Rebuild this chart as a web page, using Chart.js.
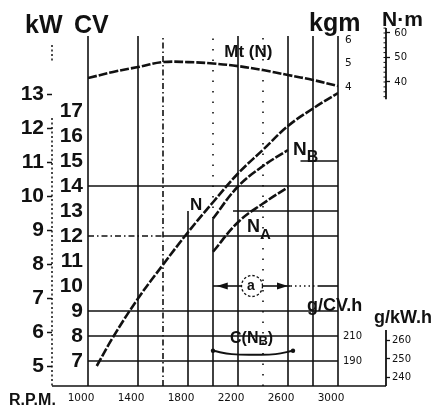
<!DOCTYPE html>
<html>
<head>
<meta charset="utf-8">
<script src="https://cdn.jsdelivr.net/npm/chart.js@4.4.1/dist/chart.umd.min.js"></script>
<style>
  html, body { margin: 0; padding: 0; background: #fff; }
  #wrap { width: 445px; height: 408px; position: relative; }
</style>
</head>
<body>
<div id="wrap"><canvas id="chart"></canvas></div>
<script>
// Engine curve sheet: power N / NB / NA, torque Mt(N), consumption C(NB)

const rpmTicks = [1000, 1400, 1800, 2200, 2600, 3000];
const cvTicks = [7, 8, 9, 10, 11, 12, 13, 14, 15, 16, 17];
const kwTicks = [5, 6, 7, 8, 9, 10, 11, 12, 13];
const kgmTicks = [4, 5, 6];
const nmTicks = [40, 50, 60];
const gcvTicks = [190, 210];
const gkwTicks = [240, 250, 260];

const rpmN = [1070, 1200, 1400, 1600, 1800, 2000, 2200, 2400, 2600, 2800, 3000];
const powerN = [6.8, 7.95, 9.5, 10.85, 12.15, 13.35, 14.5, 15.45, 16.4, 17.1, 17.72];

const rpmPart = [2000, 2200, 2400, 2600];
const powerNB = [12.7, 13.98, 14.8, 15.44];
const powerNA = [11.37, 12.55, 13.3, 13.95];

const rpmMt = [1000, 1200, 1400, 1600, 1800, 2000, 2200, 2400, 2600, 2800, 3000];
const torqueMt = [4.38, 4.64, 4.85, 5.06, 5.06, 5.0, 4.89, 4.72, 4.51, 4.3, 4.04];

const rpmC = [2000, 2150, 2350, 2500, 2640];
const consC = [198.2, 195.5, 195, 195.5, 198.2];

const KW_PER_CV = 0.7355;
const INK = '#111';
const SOLID = [], DASHDOT = [6, 3, 1.5, 3], DOTS = [1.5, 9];

// paper grid: [rpm, cvFrom, cvTo, dash] and [cv, rpmFrom, rpmTo, dash]
const vLines = [
  [1000, 6, 20, SOLID], [1400, 6, 20, SOLID], [1600, 6, 20, DASHDOT],
  [1800, 6, 13, SOLID], [2000, 6, 12.7, SOLID], [2000, 12.7, 20, DOTS],
  [2200, 6, 20, SOLID], [2400, 6, 20, DOTS], [2600, 6, 20, SOLID],
  [2800, 6, 20, SOLID], [3000, 6, 20, SOLID]
];
const hLines = [
  [7, 1000, 3000, SOLID], [8, 1000, 3000, SOLID], [9, 1000, 3000, SOLID],
  [12, 1000, 1600, DASHDOT], [12, 1600, 3000, SOLID],
  [13, 2160, 3000, SOLID], [14, 1000, 3000, SOLID], [15, 2700, 3000, SOLID],
  [10, 2000, 2228, SOLID], [10, 2396, 2620, SOLID], [10, 2620, 2840, [1.5, 3]], [10, 2840, 3000, SOLID]
];

function fixedTicks(list) {
  return scale => { scale.ticks = list.map(v => ({ value: v })); };
}
// fixed column width; drop the label overhang padding so the plot keeps its height
function fixWidth(w) {
  return scale => {
    scale.width = w;
    scale.paddingTop = 0;
    scale.paddingBottom = 0;
  };
}

function curve(label, xs, ys, axis, extra) {
  return Object.assign({
    label,
    data: xs.map((x, i) => ({ x, y: ys[i] })),
    yAxisID: axis,
    borderColor: INK,
    borderWidth: 2.6,
    borderDash: [9, 2],
    pointRadius: 0,
    tension: 0.4,
    fill: false
  }, extra || {});
}

const bigFont = { family: '"Liberation Sans", Arial, sans-serif', size: 21, weight: 'bold' };
const smallFont = { family: '"DejaVu Sans", sans-serif', size: 10 };

function txt(ctx, s, x, y, size) {
  ctx.font = 'bold ' + size + 'px "Liberation Sans", Arial, sans-serif';
  ctx.fillText(s, x, y);
  return x + ctx.measureText(s).width;
}

const paperPlugin = {
  id: 'paper',
  beforeDatasetsDraw(chart) {
    const { ctx } = chart;
    const x = chart.scales.x, cv = chart.scales.cv;
    ctx.save();
    ctx.strokeStyle = INK;
    ctx.lineWidth = 1.6;
    const seg = (x0, y0, x1, y1, dash) => {
      ctx.setLineDash(dash);
      ctx.beginPath(); ctx.moveTo(x0, y0); ctx.lineTo(x1, y1); ctx.stroke();
    };
    vLines.forEach(([r, c0, c1, d]) => {
      const px = x.getPixelForValue(r);
      seg(px, cv.getPixelForValue(c0), px, cv.getPixelForValue(c1), d);
    });
    hLines.forEach(([c, r0, r1, d]) => {
      const py = cv.getPixelForValue(c);
      seg(x.getPixelForValue(r0), py, x.getPixelForValue(r1), py, d);
    });

    // base line from kW axis to g/kW.h axis
    const kw = chart.scales.kw, nm = chart.scales.nm, gkw = chart.scales.gkw;
    const yBase = cv.getPixelForValue(6);
    seg(kw.right, yBase, gkw.left, yBase, SOLID);

    // kW axis, dotted
    ctx.lineWidth = 1.5;
    seg(kw.right, cv.getPixelForValue(19.64), kw.right, cv.getPixelForValue(18.96), [2, 2.5]);
    seg(kw.right, cv.getPixelForValue(16.72), kw.right, yBase, [2, 2.5]);

    // N·m axis with minor ticks
    ctx.lineWidth = 1.8;
    seg(nm.left, nm.getPixelForValue(62), nm.left, nm.getPixelForValue(33), SOLID);
    ctx.lineWidth = 1;
    for (let v = 34; v <= 62; v += 2) {
      const py = nm.getPixelForValue(v);
      seg(nm.left - 2.5, py, nm.left, py, SOLID);
    }
    // g/kW.h axis
    ctx.lineWidth = 1.8;
    seg(gkw.left, gkw.getPixelForValue(265.7), gkw.left, yBase, SOLID);

    // dimension "a"
    const yA = cv.getPixelForValue(10);
    const cx = x.getPixelForValue(2312);
    ctx.lineWidth = 1.3;
    ctx.setLineDash([2.5, 2]);
    ctx.beginPath(); ctx.arc(cx, yA, 10.5, 0, Math.PI * 2); ctx.stroke();
    ctx.setLineDash([]);
    ctx.fillStyle = INK;
    const xl = x.getPixelForValue(2030), xr = x.getPixelForValue(2600);
    ctx.beginPath(); ctx.moveTo(xl, yA); ctx.lineTo(xl + 11, yA - 3.5); ctx.lineTo(xl + 11, yA + 3.5); ctx.fill();
    ctx.beginPath(); ctx.moveTo(xr, yA); ctx.lineTo(xr - 11, yA - 3.5); ctx.lineTo(xr - 11, yA + 3.5); ctx.fill();
    ctx.textAlign = 'center';
    ctx.textBaseline = 'middle';
    txt(ctx, 'a', cx - 1, yA, 14);
    ctx.restore();
  },
  afterDatasetsDraw(chart) {
    const { ctx } = chart;
    const x = chart.scales.x, cv = chart.scales.cv, kgm = chart.scales.kgm, g = chart.scales.gcv;
    ctx.save();
    ctx.fillStyle = INK;
    ctx.textAlign = 'left';
    ctx.textBaseline = 'alphabetic';

    // curve labels
    txt(ctx, 'Mt (N)', x.getPixelForValue(2090), kgm.getPixelForValue(5.28), 17);
    txt(ctx, 'N', x.getPixelForValue(1816), cv.getPixelForValue(13.04), 17);
    let e = txt(ctx, 'N', x.getPixelForValue(2640), cv.getPixelForValue(15.24), 19);
    txt(ctx, 'B', e, cv.getPixelForValue(15.24) + 7, 16);
    e = txt(ctx, 'N', x.getPixelForValue(2272), cv.getPixelForValue(12.16), 18);
    txt(ctx, 'A', e, cv.getPixelForValue(12.16) + 7, 15);
    const yC = g.getPixelForValue(204.4);
    e = txt(ctx, 'C(N', x.getPixelForValue(2136), yC, 16);
    e = txt(ctx, 'B', e, yC + 2, 13);
    txt(ctx, ')', e, yC, 16);

    // axis titles
    txt(ctx, 'kW', 25, 33, 25);
    txt(ctx, 'CV', 74, 33, 25);
    txt(ctx, 'kgm', 309, 31, 25);
    txt(ctx, 'N·m', 382, 26, 21);
    txt(ctx, 'g/CV.h', 307, 311, 18);
    txt(ctx, 'g/kW.h', 374, 323, 18);
    txt(ctx, 'R.P.M.', 9, 405, 16);
    ctx.restore();
  }
};

new Chart(document.getElementById('chart'), {
  type: 'line',
  data: {
    datasets: [
      curve('N', rpmN, powerN, 'cv'),
      curve('NB', rpmPart, powerNB, 'cv'),
      curve('NA', rpmPart, powerNA, 'cv'),
      curve('Mt', rpmMt, torqueMt, 'kgm'),
      curve('C', rpmC, consC, 'gcv', {
        borderDash: [],
        borderWidth: 2,
        pointRadius: ctx => (ctx.dataIndex === 0 || ctx.dataIndex === rpmC.length - 1) ? 2.2 : 0,
        pointBackgroundColor: INK,
        pointBorderWidth: 0
      })
    ]
  },
  options: {
    responsive: true,
    maintainAspectRatio: false,
    animation: false,
    layout: { padding: { top: 28, left: 0, right: 0, bottom: 0 } },
    plugins: { legend: { display: false }, tooltip: { enabled: false } },
    scales: {
      x: {
        type: 'linear', min: 1000, max: 3000,
        afterBuildTicks: fixedTicks(rpmTicks),
        afterFit: scale => { scale.height = 22; },
        grid: { display: false, drawTicks: false },
        border: { display: false },
        ticks: {
          color: INK, font: { family: '"DejaVu Sans", sans-serif', size: 10.5 },
          padding: 6, labelOffset: -7, maxRotation: 0, autoSkip: false,
          callback: v => String(v)
        }
      },
      cv: {
        position: 'left', weight: 0, min: 6, max: 20.32,
        afterBuildTicks: fixedTicks(cvTicks),
        afterFit: fixWidth(36),
        grid: { display: false, drawTicks: false },
        border: { display: false },
        ticks: { color: INK, font: bigFont, padding: 5, autoSkip: false }
      },
      kw: {
        position: 'left', weight: 1, min: 6 * KW_PER_CV, max: 20.32 * KW_PER_CV,
        afterBuildTicks: fixedTicks(kwTicks),
        afterFit: fixWidth(52),
        grid: { drawOnChartArea: false, drawTicks: true, tickLength: 5, tickColor: INK, tickWidth: 1.5 },
        border: { display: false },
        ticks: { color: INK, font: bigFont, padding: 3, autoSkip: false }
      },
      gcv: {
        // zero-width column shared with kgm; mirrored so labels are not clipped
        position: 'right', weight: 0, min: 170, max: 456.4,
        afterBuildTicks: fixedTicks(gcvTicks),
        afterFit: fixWidth(0),
        grid: { display: false, drawTicks: false },
        border: { display: false },
        ticks: { color: INK, font: smallFont, mirror: true, crossAlign: 'near', padding: 24, autoSkip: false }
      },
      kgm: {
        position: 'right', weight: 1, min: -8.723, max: 6.511,
        afterBuildTicks: fixedTicks(kgmTicks),
        afterFit: fixWidth(48),
        grid: { display: false, drawTicks: false },
        border: { display: false },
        ticks: { color: INK, font: { family: '"DejaVu Sans", sans-serif', size: 10.5 }, padding: 7, autoSkip: false }
      },
      nm: {
        position: 'right', weight: 2, min: -84.08, max: 62.04,
        afterBuildTicks: fixedTicks(nmTicks),
        afterFit: fixWidth(0),
        grid: { drawOnChartArea: false, drawTicks: true, tickLength: 4, tickColor: INK, tickWidth: 1.3 },
        border: { display: false },
        ticks: { color: INK, font: smallFont, mirror: true, crossAlign: 'near', padding: 21, autoSkip: false }
      },
      gkw: {
        position: 'right', weight: 3, min: 235.4, max: 428.9,
        afterBuildTicks: fixedTicks(gkwTicks),
        afterFit: fixWidth(59),
        grid: { drawOnChartArea: false, drawTicks: true, tickLength: 4, tickColor: INK, tickWidth: 1.3 },
        border: { display: false },
        ticks: { color: INK, font: smallFont, padding: 2, autoSkip: false }
      }
    }
  },
  plugins: [paperPlugin]
});
</script>
</body>
</html>
